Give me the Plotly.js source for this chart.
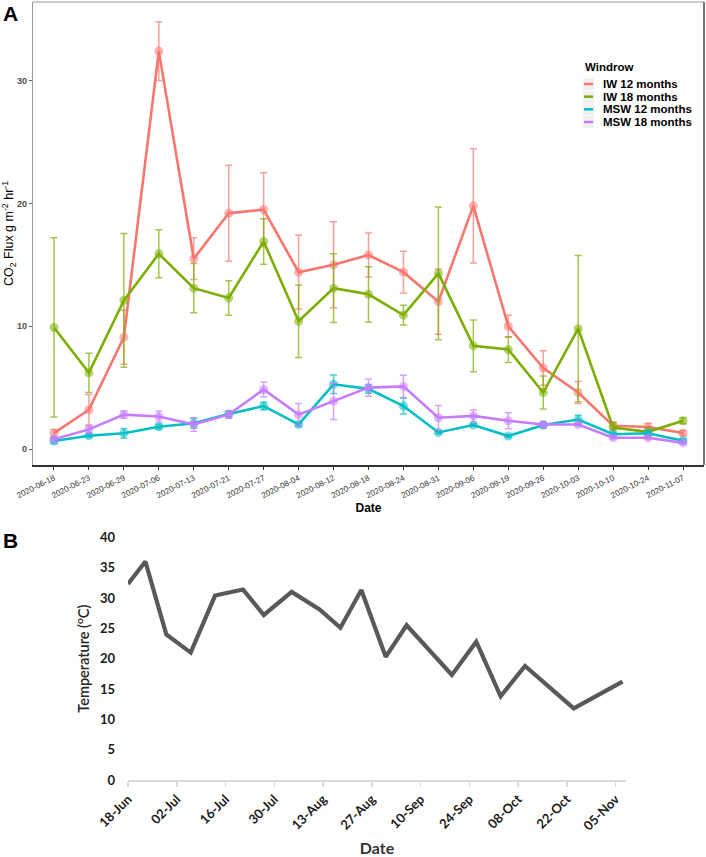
<!DOCTYPE html>
<html><head><meta charset="utf-8">
<script src="https://cdn.plot.ly/plotly-3.0.1.min.js"></script>
<style>html,body{margin:0;padding:0;background:#fff;} #chart{width:706px;height:857px;}</style>
</head><body><div id="chart"></div>
<script>
// ---------- Panel A data: CO2 flux ----------
const sampleDates = ["2020-06-18","2020-06-23","2020-06-29","2020-07-06","2020-07-13","2020-07-21","2020-07-27","2020-08-04","2020-08-12","2020-08-18","2020-08-24","2020-08-31","2020-09-06","2020-09-19","2020-09-26","2020-10-03","2020-10-10","2020-10-24","2020-11-07"];
const seriesNames = ["IW 12 months","IW 18 months","MSW 12 months","MSW 18 months"];
const seriesColors = ["#F8766D","#7CAE00","#00BFC4","#C77CFF"];
const iw12     = [1.3, 3.2, 9.1, 32.4, 15.5, 19.2, 19.5, 14.4, 15.0, 15.8, 14.4, 12.0, 19.8, 10.0, 6.6, 4.6, 1.9, 1.8, 1.3];
const iw12Err  = [0.3, 1.25, 2.2, 2.4, 1.7, 3.9, 3.0, 3.0, 3.5, 1.8, 1.7, 2.65, 4.65, 0.9, 1.4, 0.9, 0.3, 0.3, 0.2];
const iw18     = [9.9, 6.2, 12.1, 15.9, 13.1, 12.3, 16.9, 10.4, 13.1, 12.6, 10.9, 14.3, 8.4, 8.1, 4.6, 9.8, 1.75, 1.4, 2.3];
const iw18Err  = [7.3, 1.6, 5.45, 1.95, 2.0, 1.4, 1.85, 2.95, 2.8, 2.25, 0.8, 5.4, 2.1, 1.05, 1.35, 5.95, 0.4, 0.3, 0.25];
const msw12    = [0.65, 1.08, 1.28, 1.82, 2.1, 2.85, 3.5, 2.0, 5.27, 4.9, 3.5, 1.35, 1.95, 1.06, 1.95, 2.4, 1.2, 1.28, 0.68];
const msw12Err = [0.2, 0.15, 0.4, 0.2, 0.4, 0.25, 0.3, 0.15, 0.75, 0.35, 0.65, 0.1, 0.1, 0.1, 0.25, 0.35, 0.15, 0.2, 0.15];
const msw18    = [0.8, 1.6, 2.8, 2.65, 2.0, 2.8, 4.85, 2.8, 3.9, 5.0, 5.1, 2.55, 2.7, 2.3, 2.0, 2.0, 0.92, 0.92, 0.5];
const msw18Err = [0.15, 0.3, 0.3, 0.45, 0.55, 0.3, 0.6, 0.9, 1.5, 0.7, 0.9, 1.0, 0.5, 0.65, 0.15, 0.1, 0.1, 0.1, 0.1];
const fluxTicks = [0, 10, 20, 30];

// ---------- Panel B data: temperature ----------
const tempDates = sampleDates;
const temperature = [32.3, 36.0, 24.0, 21.0, 30.4, 31.4, 27.2, 31.0, 28.1, 25.1, 31.3, 20.3, 25.5, 17.3, 22.8, 13.8, 18.8, 11.8, 16.2];
const tempTicks = [0, 5, 10, 15, 20, 25, 30, 35, 40];

const W = 706, H = 857;
const fx = x => x / W;
const fy = y => 1 - y / H;

function rgba(hex, a) {
  const r = parseInt(hex.slice(1,3),16), g = parseInt(hex.slice(3,5),16), b = parseInt(hex.slice(5,7),16);
  return `rgba(${r},${g},${b},${a})`;
}

const fluxValues = [iw12, iw18, msw12, msw18];
const fluxErrors = [iw12Err, iw18Err, msw12Err, msw18Err];

const traces = seriesNames.map((name, i) => ({
  type: 'scatter', mode: 'lines+markers', name: name,
  x: sampleDates, y: fluxValues[i], xaxis: 'x', yaxis: 'y',
  line: {color: seriesColors[i], width: 2.6},
  marker: {color: seriesColors[i], size: 9, opacity: 0.55},
  error_y: {type: 'data', array: fluxErrors[i], visible: true, color: rgba(seriesColors[i], 0.7), thickness: 1.5, width: 3.5},
  showlegend: false
}));

traces.push({
  type: 'scatter', mode: 'lines', name: 'Temperature',
  x: tempDates, y: temperature, xaxis: 'x2', yaxis: 'y2',
  line: {color: '#595959', width: 4.2}, showlegend: false
});

// Panel A geometry
const aLeft = 33, aRight = 704, aTop = 2, aBottom = 465;
// Panel B geometry
const bLeft = 128, bRight = 626, bTop = 537.3, bBottom = 780;

const shapes = [
  {type:'line', xref:'paper', yref:'paper', x0:fx(aLeft), x1:fx(aRight), y0:fy(aTop), y1:fy(aTop), line:{color:'#9a9a9a', width:1.2}},
  {type:'line', xref:'paper', yref:'paper', x0:fx(aRight), x1:fx(aRight), y0:fy(aTop), y1:fy(aBottom), line:{color:'#555', width:1.6}}
];
const annotations = [
  {text:'<b>A</b>', xref:'paper', yref:'paper', x:fx(10), y:fy(14), xanchor:'center', yanchor:'middle', showarrow:false, font:{family:'Liberation Sans, Arial', size:21, color:'#000'}},
  {text:'<b>B</b>', xref:'paper', yref:'paper', x:fx(10), y:fy(540.5), xanchor:'center', yanchor:'middle', showarrow:false, font:{family:'Liberation Sans, Arial', size:21, color:'#000'}},
  {text:'<b>Windrow</b>', xref:'paper', yref:'paper', x:fx(583), y:fy(67), xanchor:'left', yanchor:'middle', showarrow:false, font:{family:'Liberation Sans, Arial', size:11.5, color:'#000'}}
];
const legendY = [84, 96.7, 109.3, 122];
seriesNames.forEach((name, i) => {
  const yc = legendY[i];
  shapes.push({type:'rect', xref:'paper', yref:'paper', x0:fx(583), x1:fx(594), y0:fy(yc-6), y1:fy(yc+6), fillcolor:'#f0f0f0', line:{width:0}});
  shapes.push({type:'line', xref:'paper', yref:'paper', x0:fx(584), x1:fx(593), y0:fy(yc), y1:fy(yc), line:{color:seriesColors[i], width:2.5}});
  annotations.push({text:'<b>'+name+'</b>', xref:'paper', yref:'paper', x:fx(601), y:fy(yc), xanchor:'left', yanchor:'middle', showarrow:false, font:{family:'Liberation Sans, Arial', size:11.5, color:'#000'}});
});

const layout = {
  width: W, height: H,
  margin: {l:0, r:0, t:0, b:0},
  paper_bgcolor: '#fff', plot_bgcolor: 'rgba(0,0,0,0)',
  showlegend: false,
  font: {family: 'Liberation Sans, Arial', color: '#000'},
  xaxis: {
    type: 'category', domain: [fx(aLeft), fx(aRight)], anchor: 'y',
    range: [-0.6, sampleDates.length - 0.4],
    tickangle: -27, tickfont: {size: 8.2, color: '#333'},
    ticks: 'outside', ticklen: 3, tickcolor: '#333', tickwidth: 1,
    showline: true, linecolor: '#333', linewidth: 2.2,
    showgrid: false, zeroline: false,
    title: {text: '<b>Date</b>', font: {size: 12, color: '#000'}, standoff: 4}
  },
  yaxis: {
    domain: [fy(aBottom), fy(aTop)], anchor: 'x',
    range: [-1.3, 36.4], tickvals: fluxTicks, ticktext: fluxTicks.map(String),
    tickfont: {size: 9, color: '#4d4d4d', weight: 'bold'},
    ticks: 'outside', ticklen: 3, tickcolor: '#666',
    showline: true, linecolor: '#9a9a9a', linewidth: 1.2,
    showgrid: false, zeroline: false,
    title: {text: 'CO<sub>2</sub> Flux g m<sup>-2</sup> hr<sup>-1</sup>', font: {size: 12.5, color: '#000'}, standoff: 3}
  },
  xaxis2: {
    type: 'date', domain: [fx(bLeft), fx(bRight)], anchor: 'y2',
    range: ['2020-06-18', '2020-11-08'],
    tick0: '2020-06-18', dtick: 14 * 86400000, tickformat: '%d-%b',
    tickangle: -45, tickfont: {family: 'Lato, sans-serif', size: 13, color: '#1a1a1a', weight: 'bold'},
    ticks: 'outside', ticklen: 5, tickcolor: '#d9d9d9', tickwidth: 1.5,
    showline: true, linecolor: '#d9d9d9', linewidth: 1.5,
    showgrid: false, zeroline: false,
    title: {text: '<b>Date</b>', font: {family: 'Lato, sans-serif', size: 16, color: '#333'}, standoff: 10}
  },
  yaxis2: {
    domain: [fy(bBottom), fy(bTop)], anchor: 'x2',
    range: [0, 40], tickvals: tempTicks, ticktext: tempTicks.map(String),
    tickfont: {family: 'Lato, sans-serif', size: 13, color: '#1a1a1a', weight: 'bold'},
    ticks: '', ticklabelstandoff: 12,
    showline: false, showgrid: false, zeroline: false,
    title: {text: 'Temperature (<sup>o</sup>C)', font: {family: 'Lato, sans-serif', size: 14.5, color: '#262626', weight: 600}, standoff: 6}
  },
  shapes: shapes,
  annotations: annotations
};

Plotly.newPlot('chart', traces, layout, {displayModeBar: false, staticPlot: true});
</script>
</body></html>
